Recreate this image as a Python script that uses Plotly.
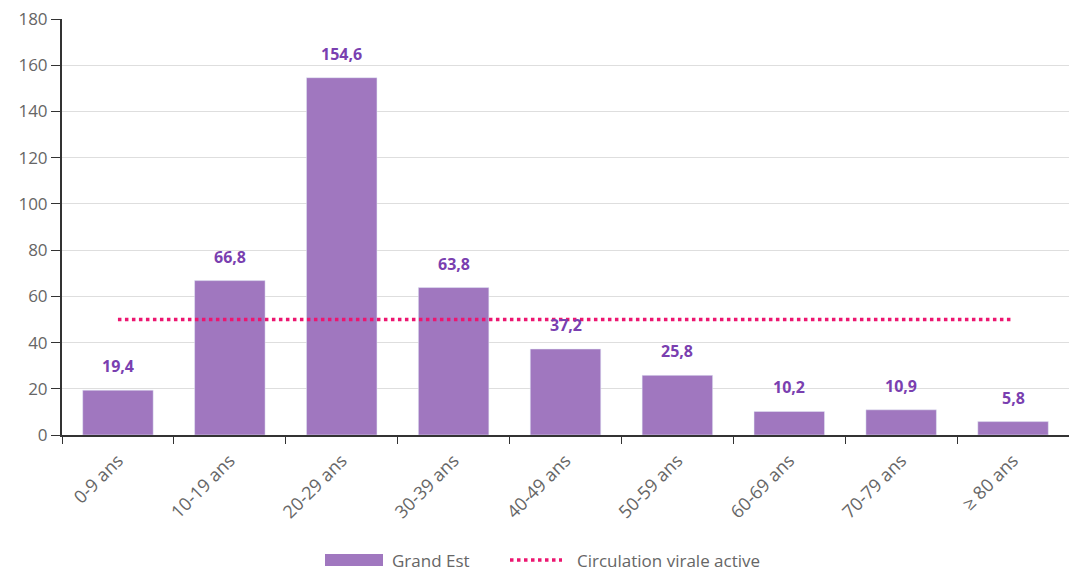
import plotly.graph_objects as go

categories = ["0-9 ans", "10-19 ans", "20-29 ans", "30-39 ans", "40-49 ans",
              "50-59 ans", "60-69 ans", "70-79 ans", "≥ 80 ans"]
values = [19.4, 66.8, 154.6, 63.8, 37.2, 25.8, 10.2, 10.9, 5.8]
threshold = [50] * len(categories)
labels = [f"<b>{v:.1f}</b>".replace(".", ",") for v in values]
series_names = ["Grand Est", "Circulation virale active"]

BAR_COLOR = "#a077bf"
LINE_COLOR = "#ec1670"
LABEL_COLOR = "#7a3fb0"
TEXT_COLOR = "#666666"
FONT = "Open Sans"

fig = go.Figure()
fig.add_trace(go.Bar(
    x=categories, y=values, name=series_names[0],
    marker=dict(color=BAR_COLOR), width=0.63, showlegend=False,
))
fig.add_trace(go.Scatter(
    x=categories, y=threshold, name=series_names[1],
    mode="lines", line=dict(color=LINE_COLOR, width=3.5, dash="dot"),
    showlegend=False,
))

for c, v, t in zip(categories, values, labels):
    fig.add_annotation(x=c, y=v, text=t, showarrow=False, yanchor="middle",
                       yshift=24, font=dict(color=LABEL_COLOR, size=16, family=FONT))

L, T, W, H = 62, 19, 1007, 416
def px(x):
    return (x - L) / W
def py(y):
    return (T + H - y) / H

# custom legend
fig.add_shape(type="rect", xref="paper", yref="paper",
              x0=px(325), x1=px(383), y0=py(566), y1=py(554),
              fillcolor=BAR_COLOR, line=dict(width=0))
fig.add_annotation(xref="paper", yref="paper", x=px(390), y=py(560),
                   xanchor="left", yanchor="middle", showarrow=False,
                   text=series_names[0], font=dict(size=17, color=TEXT_COLOR, family=FONT))
fig.add_shape(type="line", xref="paper", yref="paper",
              x0=px(510), x1=px(562), y0=py(560), y1=py(560),
              line=dict(color=LINE_COLOR, width=3.5, dash="dot"))
fig.add_annotation(xref="paper", yref="paper", x=px(575), y=py(560),
                   xanchor="left", yanchor="middle", showarrow=False,
                   text=series_names[1], font=dict(size=17, color=TEXT_COLOR, family=FONT))

fig.update_layout(
    width=1069, height=571,
    margin=dict(l=L, r=1069 - L - W, t=T, b=571 - T - H, autoexpand=False),
    plot_bgcolor="white", paper_bgcolor="white",
    font=dict(family=FONT, color=TEXT_COLOR, size=16),
    showlegend=False,
)
fig.update_yaxes(
    range=[0, 180], dtick=20, showgrid=True, gridcolor="#dedede", gridwidth=1,
    showline=True, linecolor="#333333", linewidth=2,
    ticks="outside", ticklen=9, tickcolor="#333333",
    tickfont=dict(size=17, color=TEXT_COLOR, family=FONT), zeroline=False,
    automargin=False,
)
fig.update_xaxes(
    showline=True, linecolor="#333333", linewidth=2,
    ticks="outside", ticklen=7, tickcolor="#333333", tickson="boundaries",
    tickangle=-45, tickfont=dict(size=18, color=TEXT_COLOR, family=FONT),
    ticklabelstandoff=6, automargin=False,
)

fig.write_html("out.html", config={"displayModeBar": False},
               post_script="document.body.style.margin='0';document.body.style.overflow='hidden';")
